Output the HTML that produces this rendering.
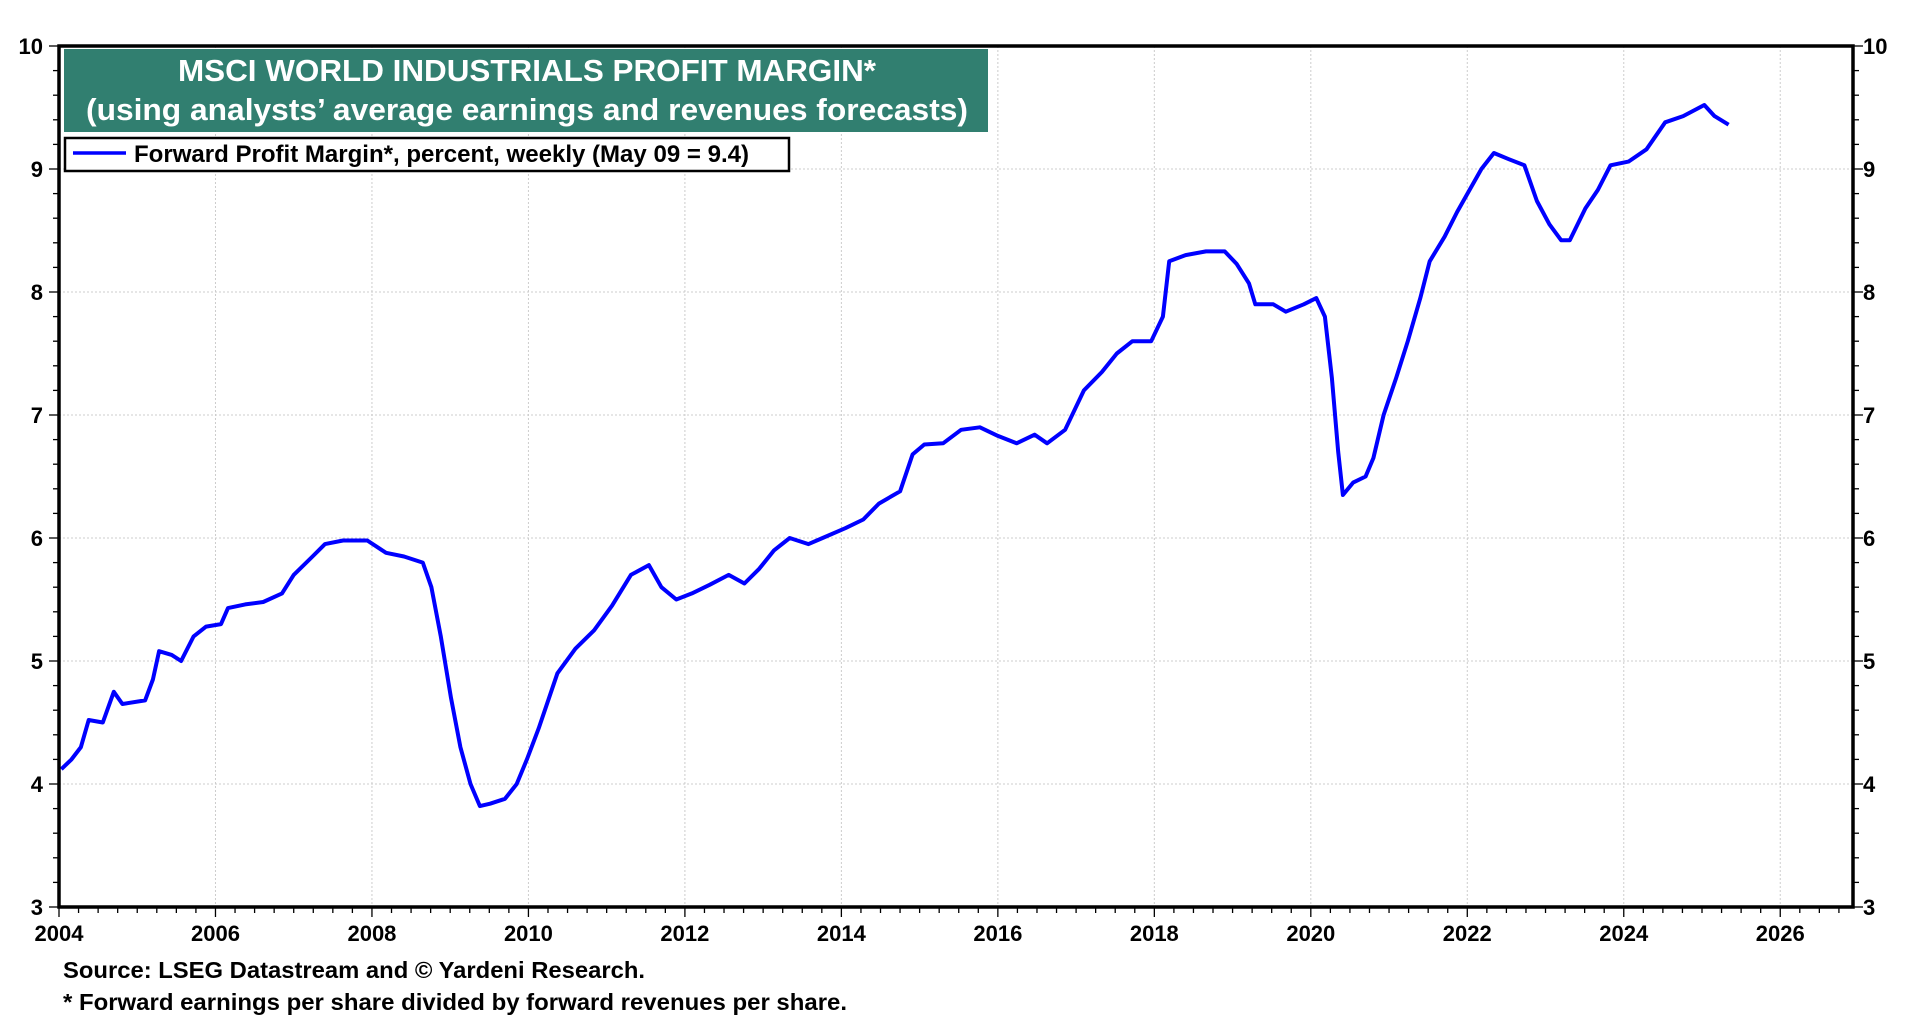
<!DOCTYPE html>
<html><head><meta charset="utf-8"><style>
html,body{margin:0;padding:0;background:#fff;}
body{width:1920px;height:1020px;overflow:hidden;position:relative;font-family:"Liberation Sans",Arial,sans-serif;}
svg{position:absolute;left:0;top:0;}
</style></head><body>
<svg id="chart" width="1920" height="1020" xmlns="http://www.w3.org/2000/svg">
<g id="grid"></g>
<g id="series"></g>
<g id="axes"></g>
<rect x="64" y="49" width="924" height="83" fill="#317f70"/>
<text x="178" y="81" textLength="698" lengthAdjust="spacingAndGlyphs" fill="#fff" font-weight="bold" font-size="31">MSCI WORLD INDUSTRIALS PROFIT MARGIN*</text>
<text x="86" y="120" textLength="882" lengthAdjust="spacingAndGlyphs" fill="#fff" font-weight="bold" font-size="31">(using analysts’ average earnings and revenues forecasts)</text>
<g>
<rect x="65" y="138" width="724" height="33" fill="#fff" stroke="#000" stroke-width="2.5"/>
<line x1="73" y1="153" x2="126" y2="153" stroke="#0000ff" stroke-width="3.5"/>
<text x="134" y="162" textLength="615" lengthAdjust="spacingAndGlyphs" font-weight="bold" font-size="24">Forward Profit Margin*, percent, weekly (May 09 = 9.4)</text>
</g>
<text x="63" y="978" textLength="582" lengthAdjust="spacingAndGlyphs" font-weight="bold" font-size="23">Source: LSEG Datastream and © Yardeni Research.</text>
<text x="63" y="1010" textLength="784" lengthAdjust="spacingAndGlyphs" font-weight="bold" font-size="23">* Forward earnings per share divided by forward revenues per share.</text>
</svg>
<script>
const years=[2004.03,2004.16,2004.28,2004.38,2004.56,2004.70,2004.81,2005.10,2005.20,2005.28,2005.44,2005.56,2005.72,2005.88,2006.07,2006.16,2006.38,2006.61,2006.85,2007.00,2007.24,2007.40,2007.63,2007.94,2008.18,2008.41,2008.65,2008.76,2008.88,2009.01,2009.13,2009.26,2009.38,2009.51,2009.70,2009.85,2009.98,2010.13,2010.37,2010.60,2010.84,2011.07,2011.31,2011.54,2011.70,2011.89,2012.09,2012.32,2012.56,2012.76,2012.95,2013.14,2013.34,2013.58,2013.76,2014.05,2014.28,2014.48,2014.75,2014.91,2015.06,2015.30,2015.53,2015.77,2016.00,2016.24,2016.47,2016.63,2016.86,2017.10,2017.33,2017.52,2017.72,2017.96,2018.11,2018.19,2018.40,2018.66,2018.90,2019.05,2019.21,2019.29,2019.52,2019.68,2019.91,2020.07,2020.18,2020.27,2020.35,2020.41,2020.54,2020.70,2020.80,2020.93,2021.09,2021.24,2021.40,2021.52,2021.71,2021.87,2022.03,2022.18,2022.34,2022.53,2022.73,2022.89,2023.05,2023.20,2023.31,2023.51,2023.67,2023.83,2024.06,2024.29,2024.53,2024.76,2025.03,2025.16,2025.34];
const margins=[4.12,4.2,4.3,4.52,4.5,4.75,4.65,4.68,4.85,5.08,5.05,5.0,5.2,5.28,5.3,5.43,5.46,5.48,5.55,5.7,5.85,5.95,5.98,5.98,5.88,5.85,5.8,5.6,5.2,4.7,4.3,4.0,3.82,3.84,3.88,4.0,4.2,4.45,4.9,5.1,5.25,5.45,5.7,5.78,5.6,5.5,5.55,5.62,5.7,5.63,5.75,5.9,6.0,5.95,6.0,6.08,6.15,6.28,6.38,6.68,6.76,6.77,6.88,6.9,6.83,6.77,6.84,6.77,6.88,7.2,7.35,7.5,7.6,7.6,7.8,8.25,8.3,8.33,8.33,8.23,8.07,7.9,7.9,7.84,7.9,7.95,7.8,7.3,6.7,6.35,6.45,6.5,6.65,7.0,7.3,7.6,7.95,8.25,8.45,8.65,8.83,9.0,9.13,9.08,9.03,8.74,8.55,8.42,8.42,8.68,8.83,9.03,9.06,9.16,9.38,9.43,9.52,9.43,9.36];
const yTicks=[3,4,5,6,7,8,9,10];
const xTickLabels=[2004,2006,2008,2010,2012,2014,2016,2018,2020,2022,2024,2026];
const NS='http://www.w3.org/2000/svg';
const L=59,R=1853,T=46,B=907,X0=2004,X1=2026.93,Y0=3,Y1=10;
const xs=v=>L+(v-X0)/(X1-X0)*(R-L);
const ys=v=>B-(v-Y0)/(Y1-Y0)*(B-T);
function mk(tag,attrs,parent){const e=document.createElementNS(NS,tag);for(const k in attrs)e.setAttribute(k,attrs[k]);parent.appendChild(e);return e;}
const grid=document.getElementById('grid'),axes=document.getElementById('axes'),series=document.getElementById('series');
yTicks.forEach(v=>{
 if(v>Y0&&v<Y1){const g=mk('line',{x1:L,x2:R,y1:ys(v),y2:ys(v),stroke:'#cccccc','stroke-width':1,'stroke-dasharray':'2,2'},grid);
 
 }
 const t1=mk('text',{x:L-16,y:ys(v)+8,'text-anchor':'end','font-size':22,'font-weight':'bold'},axes);t1.textContent=v;
 
 
 const t2=mk('text',{x:R+10,y:ys(v)+8,'text-anchor':'start','font-size':22,'font-weight':'bold'},axes);t2.textContent=v;
 
 
});
for(let v=Y0;v<=Y1+1e-6;v+=0.2){const yy=ys(v);const major=Math.abs(v-Math.round(v))<1e-6;
 mk('line',{x1:L-(major?10:6),x2:L,y1:yy,y2:yy,stroke:'#000','stroke-width':1.3},axes);
 mk('line',{x1:R,x2:R+(major?10:6),y1:yy,y2:yy,stroke:'#000','stroke-width':1.3},axes);}
xTickLabels.forEach(v=>{
 const g=mk('line',{x1:xs(v),x2:xs(v),y1:T,y2:B,stroke:'#cccccc','stroke-width':1,'stroke-dasharray':'2,2'},grid);
 
 
 const t=mk('text',{x:xs(v),y:941,'text-anchor':'middle','font-size':22,'font-weight':'bold'},axes);t.textContent=v;
 
 
});
for(let v=X0;v<X1;v+=0.25){const major=Math.abs(v/2-Math.round(v/2))<1e-6;
 mk('line',{x1:xs(v),x2:xs(v),y1:B,y2:B+(major?10:6),stroke:'#000','stroke-width':1.3},axes);}
const frame=mk('rect',{x:L,y:T,width:R-L,height:B-T,fill:'none',stroke:'#000','stroke-width':3.5},axes);


let d='';years.forEach((y,i)=>{d+=(i?'L':'M')+xs(y).toFixed(1)+','+ys(margins[i]).toFixed(1);});
const p=mk('path',{d:d,fill:'none',stroke:'#0000ff','stroke-width':4,'stroke-linejoin':'round'},series);


</script>
</body></html>
